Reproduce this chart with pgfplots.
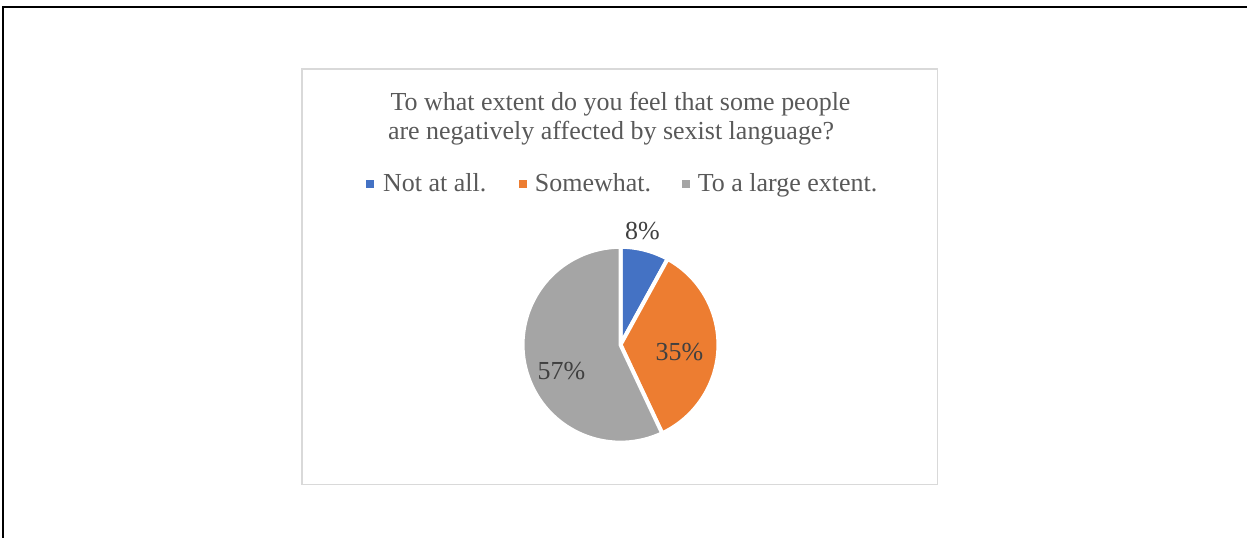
\documentclass[border=0pt]{standalone}
\usepackage{pgfplots}
\pgfplotsset{compat=1.18}
\usepackage{pgfplotstable}
\usepackage{fontspec}
\setmainfont{Liberation Serif}
\definecolor{cBlue}{HTML}{4472C4}
\definecolor{cOrange}{HTML}{ED7D31}
\definecolor{cGray}{HTML}{A5A5A5}
\definecolor{txt}{HTML}{595959}
\definecolor{lbl}{HTML}{404040}
\definecolor{boxc}{HTML}{D9D9D9}

\pgfplotstableread{
label share
Not 8
Some 35
Large 57
}\piedata
\pgfplotstablegetelem{0}{share}\of\piedata \edef\vA{\pgfplotsretval}
\pgfplotstablegetelem{1}{share}\of\piedata \edef\vB{\pgfplotsretval}
\pgfplotstablegetelem{2}{share}\of\piedata \edef\vC{\pgfplotsretval}
\pgfmathsetmacro\aA{90}
\pgfmathsetmacro\aB{\aA-3.6*\vA}
\pgfmathsetmacro\aC{\aB-3.6*\vB}
\pgfmathsetmacro\aD{\aC-3.6*\vC}
\def\cx{621}
\def\cy{193}
\def\R{98}

\begin{document}
\begin{tikzpicture}
\begin{axis}[
  x=0.5pt, y=0.5pt,
  xmin=0, xmax=1248, ymin=0, ymax=538,
  scale only axis, hide axis, clip=false,
]
\fill[white] (axis cs:0,0) rectangle (axis cs:1248,538);
% outer page frame
\draw[black, line width=1pt] (axis cs:3.5,0) -- (axis cs:3.5,530.5) -- (axis cs:1248,530.5);
% chart area
\draw[boxc, line width=0.75pt] (axis cs:302,53) rectangle (axis cs:938,469);
% title
\node[anchor=base, text=txt, font=\fontsize{13pt}{14pt}\selectfont] at (axis cs:621,427) {To what extent do you feel that some people};
\node[anchor=base, text=txt, font=\fontsize{13pt}{14pt}\selectfont] at (axis cs:611.5,398) {are negatively affected by sexist language?};
% legend
\fill[cBlue] (axis cs:366,350) rectangle (axis cs:374,358);
\node[anchor=base west, inner sep=0pt, text=txt, font=\fontsize{13pt}{14pt}\selectfont] at (axis cs:383,346) {Not at all.};
\fill[cOrange] (axis cs:519,350) rectangle (axis cs:527,358);
\node[anchor=base west, inner sep=0pt, text=txt, font=\fontsize{13pt}{14pt}\selectfont] at (axis cs:535,346) {Somewhat.};
\fill[cGray] (axis cs:683,350) rectangle (axis cs:691,358);
\node[anchor=base west, inner sep=0pt, text=txt, font=\fontsize{13pt}{14pt}\selectfont] at (axis cs:698,346) {To a large extent.};
% pie slices
\filldraw[fill=cBlue, draw=white, line width=2pt, line join=round]
  (axis cs:\cx,\cy) -- (axis cs:{\cx+\R*cos(\aA)},{\cy+\R*sin(\aA)})
  arc[start angle=\aA, end angle=\aB, radius=49pt] -- cycle;
\filldraw[fill=cOrange, draw=white, line width=2pt, line join=round]
  (axis cs:\cx,\cy) -- (axis cs:{\cx+\R*cos(\aB)},{\cy+\R*sin(\aB)})
  arc[start angle=\aB, end angle=\aC, radius=49pt] -- cycle;
\filldraw[fill=cGray, draw=white, line width=2pt, line join=round]
  (axis cs:\cx,\cy) -- (axis cs:{\cx+\R*cos(\aC)},{\cy+\R*sin(\aC)})
  arc[start angle=\aC, end angle=\aD, radius=49pt] -- cycle;
% data labels
\node[anchor=base, text=lbl, font=\fontsize{13pt}{14pt}\selectfont] at (axis cs:643,298) {\vA\%};
\node[anchor=base, text=lbl, font=\fontsize{13pt}{14pt}\selectfont] at (axis cs:680,177) {\vB\%};
\node[anchor=base, text=lbl, font=\fontsize{13pt}{14pt}\selectfont] at (axis cs:562,158) {\vC\%};
\end{axis}
\end{tikzpicture}
\end{document}
